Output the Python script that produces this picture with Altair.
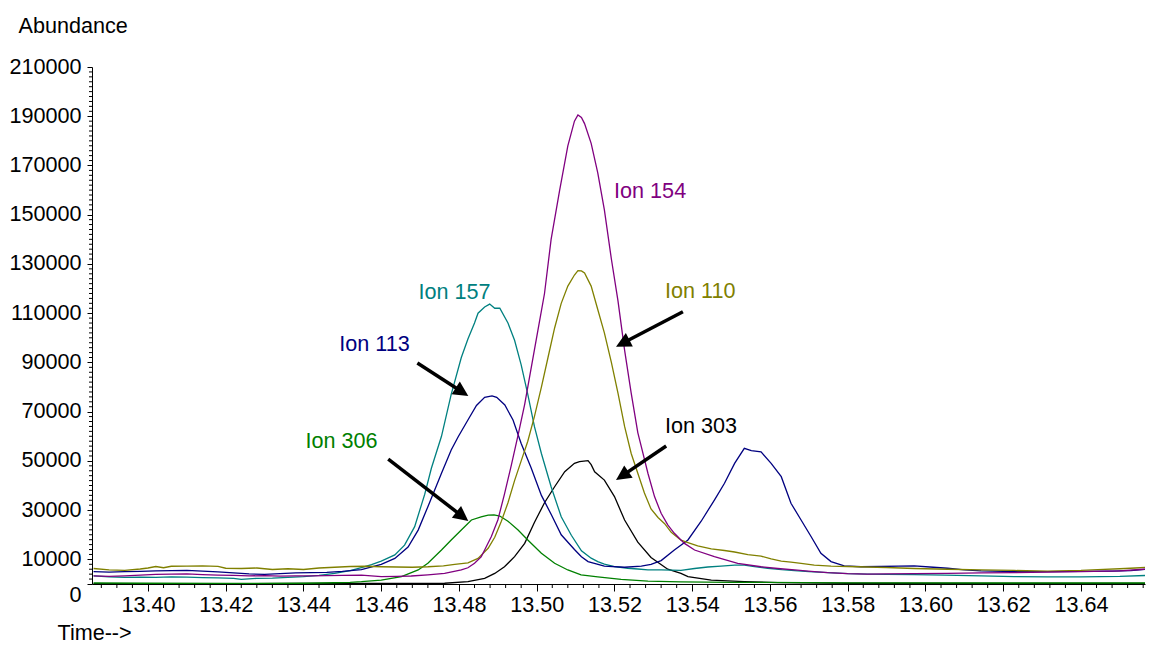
import math
import altair as alt
import pandas as pd

FONT = "Liberation Sans"
FS = 21.6
T_MIN = 13.3856
PX_PER_T = 3887.5
W, H = 1053, 517
T_MAX = T_MIN + W / PX_PER_T
V_MAX = 210000

# ---------------- series (time, abundance) ----------------
ion110_t = [13.386, 13.390, 13.394, 13.398, 13.400, 13.402, 13.404, 13.406, 13.410, 13.414,
            13.418, 13.420, 13.424, 13.428, 13.432, 13.436, 13.440, 13.444, 13.448, 13.452,
            13.456, 13.460, 13.464, 13.468, 13.472, 13.476, 13.4789, 13.4823, 13.4849, 13.4875,
            13.4892, 13.4909, 13.4926, 13.4943, 13.4960, 13.4977, 13.4994, 13.5012, 13.5029, 13.5046,
            13.5063, 13.5080, 13.5097, 13.5106, 13.5115, 13.5123, 13.5140, 13.5157, 13.5174, 13.5192,
            13.5209, 13.5226, 13.5243, 13.5260, 13.5277, 13.5294, 13.5312, 13.5329, 13.5346, 13.5371,
            13.5389, 13.5414, 13.5449, 13.5483, 13.5509, 13.5543, 13.5577, 13.5603, 13.5629, 13.5654,
            13.5680, 13.5714, 13.5757, 13.5800, 13.5850, 13.5900, 13.5971, 13.6057, 13.6143, 13.6228,
            13.6314, 13.6400, 13.6443, 13.6500, 13.6540, 13.6590]
ion110_v = [6300, 5700, 5500, 6100, 6500, 7100, 6600, 7200, 7300, 7400,
            7200, 6400, 6300, 6500, 5900, 6200, 5900, 6500, 6800, 7100,
            7200, 7000, 6900, 6800, 7000, 7400, 8000, 8600, 10400, 14500,
            19000, 25500, 33000, 42000, 50000, 58000, 68000, 80000, 92000, 104000,
            114000, 121000, 125500, 127300, 127200, 126300, 121000, 111500, 102000, 90000,
            77500, 64000, 53000, 45000, 37000, 30500, 27000, 24500, 21000, 17800,
            16800, 15500, 14300, 13600, 13000, 11900, 11300, 10200, 9300, 8900,
            8400, 7700, 7300, 7100, 6900, 6700, 6300, 6000, 5700, 5500,
            5200, 5500, 5800, 6200, 6500, 7000]

ion154_t = [13.386, 13.390, 13.394, 13.398, 13.402, 13.406, 13.410, 13.414, 13.418, 13.422,
            13.426, 13.430, 13.434, 13.438, 13.442, 13.446, 13.450, 13.4549, 13.4600, 13.4640,
            13.4677, 13.4720, 13.4763, 13.4806, 13.4823, 13.4840, 13.4857, 13.4866, 13.4883, 13.4900,
            13.4917, 13.4935, 13.4952, 13.4969, 13.4986, 13.5003, 13.5020, 13.5037, 13.5059, 13.5080,
            13.5097, 13.5106, 13.5115, 13.5123, 13.5140, 13.5157, 13.5174, 13.5192, 13.5209, 13.5226,
            13.5243, 13.5260, 13.5269, 13.5286, 13.5303, 13.5320, 13.5337, 13.5354, 13.5380, 13.5406,
            13.5457, 13.5517, 13.5577, 13.5620, 13.5663, 13.5706, 13.5749, 13.5800, 13.5850, 13.5900,
            13.5971, 13.6057, 13.6143, 13.6228, 13.6314, 13.6400, 13.6500, 13.6560, 13.6590]
ion154_v = [3300, 3100, 3300, 3600, 3900, 4000, 4100, 3800, 3600, 3500,
            3300, 3400, 3200, 3300, 3300, 3400, 3500, 3600, 3000, 3100,
            3250, 3700, 4300, 5700, 6600, 8400, 11000, 13800, 19200, 26000,
            36500, 48500, 60500, 73000, 88000, 103000, 118000, 140000, 160000, 178000,
            188000, 190500, 189500, 187000, 179000, 167000, 152000, 132000, 115000, 95000,
            77500, 61500, 55800, 45000, 35500, 28700, 24000, 20600, 16500, 13800,
            11100, 8400, 7000, 6300, 5700, 5100, 4600, 4200, 4000, 4100,
            4200, 4300, 4500, 4600, 4800, 5000, 5300, 6000, 6300]

ion157_t = [13.386, 13.390, 13.394, 13.398, 13.402, 13.406, 13.410, 13.414, 13.418, 13.422,
            13.424, 13.428, 13.432, 13.436, 13.440, 13.444, 13.448, 13.452, 13.4549, 13.4575,
            13.4600, 13.4635, 13.4660, 13.4686, 13.4712, 13.4729, 13.4755, 13.4780, 13.4806, 13.4823,
            13.4840, 13.4849, 13.4866, 13.4879, 13.4892, 13.4905, 13.4926, 13.4943, 13.4960, 13.4977,
            13.4994, 13.5012, 13.5037, 13.5063, 13.5089, 13.5115, 13.5140, 13.5157, 13.5174, 13.5200,
            13.5234, 13.5260, 13.5286, 13.5320, 13.5346, 13.5371, 13.5406, 13.5440, 13.5474, 13.5509,
            13.5534, 13.5560, 13.5594, 13.5630, 13.5663, 13.5700, 13.5749, 13.5800, 13.5850, 13.5900,
            13.5971, 13.6050, 13.6143, 13.6228, 13.6314, 13.6400, 13.6500, 13.6590]
ion157_v = [3300, 2900, 2700, 2800, 2700, 2900, 2800, 2600, 2500, 2300,
            1900, 2300, 2400, 2700, 3000, 3500, 4300, 5400, 6700, 7900,
            9300, 11800, 15800, 23300, 36500, 47000, 60000, 77000, 92000, 99500,
            106000, 110000, 112500, 113700, 112000, 112000, 106000, 99000, 89000, 77000,
            64000, 53000, 39500, 27300, 19800, 13500, 10500, 9100, 8100, 7100,
            6400, 6100, 5700, 5700, 5600, 5500, 6300, 6900, 7300, 7700,
            7700, 7100, 6400, 5800, 5400, 5000, 4600, 4200, 4000, 3900,
            3800, 3600, 3300, 3000, 2900, 2900, 3100, 3600]

ion113_t = [13.386, 13.390, 13.394, 13.398, 13.402, 13.406, 13.410, 13.414, 13.418, 13.422,
            13.426, 13.430, 13.434, 13.438, 13.442, 13.446, 13.450, 13.4549, 13.4600, 13.4635,
            13.4669, 13.4695, 13.4720, 13.4755, 13.4780, 13.4798, 13.4823, 13.4845, 13.4866, 13.4885,
            13.4897, 13.4918, 13.4939, 13.4960, 13.4986, 13.5012, 13.5038, 13.5063, 13.5097, 13.5115,
            13.5132, 13.5174, 13.5226, 13.5269, 13.5294, 13.5320, 13.5354, 13.5389, 13.5423, 13.5457,
            13.5483, 13.5509, 13.5534, 13.5552, 13.5577, 13.5603, 13.5629, 13.5654, 13.5680, 13.5706,
            13.5731, 13.5757, 13.5791, 13.5834, 13.5886, 13.5930, 13.5971, 13.6020, 13.6057, 13.6100,
            13.6143, 13.6228, 13.6314, 13.6400, 13.6480, 13.6528, 13.6590]
ion113_v = [5000, 4800, 5000, 5100, 5300, 5400, 5500, 5200, 4900, 4500,
            4100, 3900, 4200, 4500, 4600, 4700, 5100, 5800, 8000, 10400,
            15000, 21900, 31400, 45000, 54400, 59800, 66600, 72500, 75800, 76400,
            75800, 72700, 66600, 57100, 47000, 36000, 28000, 20000, 14000, 11100,
            9100, 7300, 6800, 7300, 8000, 9500, 13800, 17900, 25500, 34100,
            40900, 49000, 55100, 54200, 53700, 49000, 43600, 32800, 26000, 19200,
            12500, 9100, 7400, 7000, 7100, 7300, 7400, 6800, 6400, 5700,
            5300, 5000, 5000, 5100, 5200, 5400, 6300]

ion306_t = [13.386, 13.400, 13.420, 13.440, 13.448, 13.452, 13.4549, 13.4600, 13.4652, 13.4695,
            13.4720, 13.4755, 13.4780, 13.4806, 13.4832, 13.4857, 13.4875, 13.4890, 13.4905, 13.4926,
            13.4952, 13.4977, 13.5012, 13.5046, 13.5080, 13.5114, 13.5157, 13.5217, 13.5286, 13.5371,
            13.5500, 13.5800, 13.6200, 13.6590]
ion306_v = [400, 300, 250, 300, 500, 700, 950, 1600, 3000, 5700,
            8400, 13800, 17900, 21900, 26000, 27300, 28000, 28100, 27600, 25500,
            21900, 17900, 12500, 8400, 5700, 3700, 2900, 1900, 1200, 900,
            700, 450, 400, 400]

ion303_t = [13.386, 13.420, 13.440, 13.4763, 13.4823, 13.4866, 13.4892, 13.4917, 13.4943, 13.4969,
            13.4994, 13.5020, 13.5046, 13.5072, 13.5097, 13.5110, 13.5132, 13.5140, 13.5149, 13.5174,
            13.5200, 13.5226, 13.5260, 13.5294, 13.5337, 13.5371, 13.5389, 13.5449, 13.5534, 13.5620,
            13.5800, 13.6200, 13.6590]
ion303_v = [100, 150, 200, 300, 950, 2300, 4300, 7000, 11100, 16500,
            25000, 33000, 39500, 45600, 49000, 49700, 50100, 48500, 45600, 42200,
            35500, 26000, 17000, 10800, 6000, 4300, 3000, 1600, 950, 550,
            300, 250, 250]

# ---------------- annotations ----------------
label_text = ["Ion 154", "Ion 110", "Ion 157", "Ion 113", "Ion 306", "Ion 303"]
label_t = [13.5199, 13.5330, 13.4696, 13.4492, 13.4405, 13.5330]
label_v = [159230, 118600, 118300, 97080, 57800, 63650]

arrow_ion = ["Ion 113", "Ion 306", "Ion 110", "Ion 303"]
arrow_t0 = [13.4693, 13.4618, 13.5376, 13.5333]
arrow_v0 = [89770, 50770, 110600, 56050]
arrow_t1 = [13.4824, 13.4824, 13.5204, 13.5204]
arrow_v1 = [76360, 25590, 96390, 42240]

# ---------------- axis ticks ----------------
x_major = [13.40, 13.42, 13.44, 13.46, 13.48, 13.50, 13.52, 13.54, 13.56, 13.58, 13.60, 13.62, 13.64]
y_major = [0, 10000, 30000, 50000, 70000, 90000, 110000, 130000, 150000, 170000, 190000, 210000]

colors = {
    "Ion 154": "#800080",
    "Ion 110": "#808000",
    "Ion 157": "#008080",
    "Ion 113": "#000080",
    "Ion 306": "#008000",
    "Ion 303": "#000000",
}

series = [
    ("Ion 303", ion303_t, ion303_v),
    ("Ion 306", ion306_t, ion306_v),
    ("Ion 157", ion157_t, ion157_v),
    ("Ion 113", ion113_t, ion113_v),
    ("Ion 110", ion110_t, ion110_v),
    ("Ion 154", ion154_t, ion154_v),
]
rows = []
for name, ts, vs in series:
    for t, v in zip(ts, vs):
        rows.append({"ion": name, "t": t, "v": v})
lines_df = pd.DataFrame(rows)

labels_df = pd.DataFrame({"label": label_text, "ion": label_text, "t": label_t, "v": label_v})

kx = W / (T_MAX - T_MIN)
ky = H / V_MAX
arows, hrows = [], []
for name, t0, v0, t1, v1 in zip(arrow_ion, arrow_t0, arrow_v0, arrow_t1, arrow_v1):
    dx = (t1 - t0) * kx
    dy = -(v1 - v0) * ky
    L = math.hypot(dx, dy)
    ux, uy = dx / L, dy / L
    ang = math.degrees(math.atan2(dx, -dy)) % 360
    t_end = t1 - 10 * ux / kx
    v_end = v1 + 10 * uy / ky
    arows.append({"ion": name, "t": t0, "v": v0, "t2": t_end, "v2": v_end})
    hrows.append({"ion": name, "t": t1, "v": v1, "ang": ang})
arrows_df = pd.DataFrame(arows)
heads_df = pd.DataFrame(hrows)

x_minor = []
k = 0
while True:
    val = round(13.388 + 0.004 * k, 3)
    if val > T_MAX:
        break
    if abs(val * 50 - round(val * 50)) > 1e-6:
        x_minor.append(val)
    k += 1
y_minor = [v for v in range(0, V_MAX + 1, 2000) if v not in y_major]
minor_x_df = pd.DataFrame({"t": x_minor})
minor_y_df = pd.DataFrame({"v": y_minor})

xs = alt.Scale(domain=[T_MIN, T_MAX], nice=False, zero=False)
ys = alt.Scale(domain=[0, V_MAX], nice=False, zero=True)
cs = alt.Scale(domain=list(colors.keys()), range=list(colors.values()))

x_axis = alt.Axis(
    values=x_major, format=".2f", tickSize=7, tickColor="black", tickWidth=1,
    domainColor="black", domainWidth=1, grid=False,
    labelFont=FONT, labelFontSize=FS, labelColor="black", labelBaseline="top",
    labelPadding=3.5, labelFlush=False, labelOverlap=False,
    title="Time-->", titleFont=FONT, titleFontSize=FS, titleFontWeight="normal",
    titleColor="black", titleAngle=0, titleAlign="left", titleBaseline="alphabetic",
    titleX=-35, titleY=55,
)
y_axis = alt.Axis(
    values=y_major, format="d", tickSize=5, tickColor="black", tickWidth=1,
    domainColor="black", domainWidth=1, grid=False,
    labelFont=FONT, labelFontSize=FS, labelColor="black", labelPadding=6,
    labelBaseline={"condition": {"test": "datum.value === 0", "value": "top"}, "value": "middle"},
    labelFlush=False, labelOverlap=False,
    title="Abundance", titleFont=FONT, titleFontSize=FS, titleFontWeight="normal",
    titleColor="black", titleAngle=0, titleAlign="left", titleBaseline="alphabetic",
    titleX=-74, titleY=-35,
)

X = alt.X("t:Q", scale=xs, axis=x_axis)
Y = alt.Y("v:Q", scale=ys, axis=y_axis)

lines = alt.Chart(lines_df).mark_line(strokeWidth=1.3, clip=True).encode(
    x=X, y=Y, color=alt.Color("ion:N", scale=cs, legend=None), detail="ion:N"
)

minor_x = alt.Chart(minor_x_df).mark_rule(color="black", strokeWidth=1).encode(
    x=X, y=alt.value(H), y2=alt.value(H + 4)
)
minor_y = alt.Chart(minor_y_df).mark_rule(color="black", strokeWidth=1).encode(
    y=Y, x=alt.value(-3), x2=alt.value(0)
)

arrows = alt.Chart(arrows_df).mark_rule(color="black", strokeWidth=3.5).encode(
    x=X, y=Y, x2="t2:Q", y2="v2:Q"
)
heads = alt.Chart(heads_df).mark_point(
    shape="M0,0L-0.5,1L0.5,1Z", filled=True, color="black", opacity=1, size=900, strokeWidth=0
).encode(x=X, y=Y, angle=alt.Angle("ang:Q", scale=None))

labels = alt.Chart(labels_df).mark_text(
    font=FONT, fontSize=FS, align="left", baseline="middle"
).encode(x=X, y=Y, text="label:N", color=alt.Color("ion:N", scale=cs, legend=None))

chart = alt.layer(lines, minor_x, minor_y, arrows, heads, labels).properties(
    width=W, height=H,
    padding={"left": 84, "top": 59, "right": 1, "bottom": 60},
    autosize=alt.AutoSizeParams(type="none"),
    background="white",
).configure_view(stroke=None)

chart.save("out.html", embed_options={"renderer": "svg", "actions": False})
